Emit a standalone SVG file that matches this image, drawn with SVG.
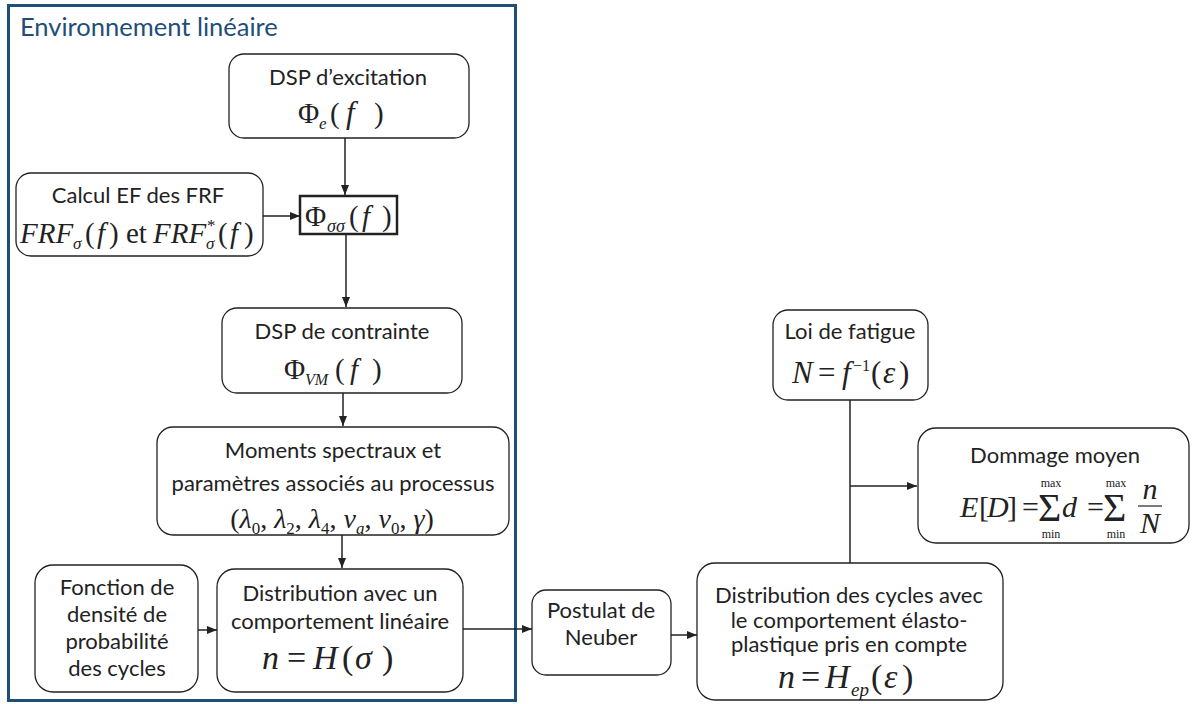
<svg xmlns="http://www.w3.org/2000/svg" width="1193" height="704" viewBox="0 0 1193 704">
<defs>
<style>
.box{fill:#fff;stroke:#222;stroke-width:1.3}
.t{font-family:Lato,"Liberation Sans",sans-serif;font-size:22px;fill:#222;text-anchor:middle}
.m{font-family:"Liberation Serif","Times New Roman",serif;font-size:28px;fill:#222}
.i{font-style:italic}
.s{font-size:17px}
.c{fill:none;stroke:#222;stroke-width:1.5}
</style>
<marker id="ah" viewBox="0 0 10 10" refX="10" refY="5" markerWidth="10" markerHeight="10" markerUnits="userSpaceOnUse" orient="auto">
<path d="M0,1 L10,5 L0,9 Z" fill="#222"/>
</marker>
</defs>
<rect width="1193" height="704" fill="#fff"/>
<g id="frame">
<rect x="8.5" y="5.5" width="507" height="695" fill="none" stroke="#1f4e79" stroke-width="3"/>
<text x="20" y="36" font-family="Lato,'Liberation Sans',sans-serif" font-size="25.5" fill="#1f4e79">Environnement linéaire</text>
</g>
<g id="connectors">
<line class="c" x1="345" y1="138" x2="345" y2="195" marker-end="url(#ah)"/>
<line class="c" x1="263" y1="216" x2="300" y2="216" marker-end="url(#ah)"/>
<line class="c" x1="346" y1="235" x2="346" y2="307" marker-end="url(#ah)"/>
<line class="c" x1="343" y1="393" x2="343" y2="426" marker-end="url(#ah)"/>
<line class="c" x1="342" y1="535" x2="342" y2="568" marker-end="url(#ah)"/>
<line class="c" x1="198" y1="630" x2="217" y2="630" marker-end="url(#ah)"/>
<line class="c" x1="463" y1="629" x2="532" y2="629" marker-end="url(#ah)"/>
<line class="c" x1="671" y1="635" x2="697" y2="635" marker-end="url(#ah)"/>
<line class="c" x1="850" y1="400" x2="850" y2="563"/>
<line class="c" x1="850" y1="486" x2="917" y2="486" marker-end="url(#ah)"/>
</g>
<g id="dsp-excitation">
<rect class="box" x="229" y="54" width="240" height="84" rx="15"/>
<text class="t" x="348" y="85">DSP d’excitation</text>
<text class="m" style="font-size:29px"><tspan x="298" y="123">Φ</tspan><tspan class="i s" x="319" y="129">e</tspan><tspan x="330" y="123">(</tspan><tspan class="i" x="346" y="123" style="font-size:31px">f</tspan><tspan x="374" y="123">)</tspan></text>
</g>
<g id="calcul-ef">
<rect class="box" x="16" y="173" width="247" height="83" rx="15"/>
<text class="t" x="138" y="203">Calcul EF des FRF</text>
<text class="m" style="font-size:29px"><tspan class="i" x="20" y="243">FRF</tspan><tspan class="i s" x="73" y="249">σ</tspan><tspan x="85" y="243">(</tspan><tspan class="i" x="97" y="243">f</tspan><tspan x="109" y="243">)</tspan><tspan x="126" y="243">et</tspan><tspan class="i" x="153" y="243">FRF</tspan><tspan class="s" x="207" y="231">*</tspan><tspan class="i s" x="206" y="249">σ</tspan><tspan x="218" y="243">(</tspan><tspan class="i" x="230" y="243">f</tspan><tspan x="244" y="243">)</tspan></text>
</g>
<g id="phi-sigma">
<rect x="300" y="196" width="97" height="38" fill="#fff" stroke="#222" stroke-width="2.5"/>
<text class="m" style="font-size:29px"><tspan x="305" y="226">Φ</tspan><tspan class="i" style="font-size:18px" x="327" y="232">σσ</tspan><tspan x="349" y="226">(</tspan><tspan class="i" x="362" y="226">f</tspan><tspan x="382" y="226">)</tspan></text>
</g>
<g id="dsp-contrainte">
<rect class="box" x="222" y="308" width="240" height="85" rx="15"/>
<text class="t" x="342" y="339">DSP de contrainte</text>
<text class="m" style="font-size:29px"><tspan x="284" y="379">Φ</tspan><tspan class="i" style="font-size:16px" x="305" y="385">VM</tspan><tspan x="335" y="379">(</tspan><tspan class="i" x="350" y="379">f</tspan><tspan x="372" y="379">)</tspan></text>
</g>
<g id="moments">
<rect class="box" x="157" y="427" width="352" height="108" rx="16"/>
<text class="t" x="333" y="458">Moments spectraux et</text>
<text class="t" x="333" y="491">paramètres associés au processus</text>
<text class="m" x="332" y="528" text-anchor="middle">(<tspan class="i">λ</tspan><tspan class="s" dy="6">0</tspan><tspan dy="-6">, </tspan><tspan class="i">λ</tspan><tspan class="s" dy="6">2</tspan><tspan dy="-6">, </tspan><tspan class="i">λ</tspan><tspan class="s" dy="6">4</tspan><tspan dy="-6">, </tspan><tspan class="i">ν</tspan><tspan class="i s" dy="6">a</tspan><tspan dy="-6">, </tspan><tspan class="i">ν</tspan><tspan class="s" dy="6">0</tspan><tspan dy="-6">, </tspan><tspan class="i">γ</tspan>)</text>
</g>
<g id="fonction-densite">
<rect class="box" x="35" y="565" width="163" height="127" rx="18"/>
<text class="t" x="117" y="595">Fonction de</text>
<text class="t" x="117" y="622">densité de</text>
<text class="t" x="117" y="649">probabilité</text>
<text class="t" x="117" y="676">des cycles</text>
</g>
<g id="distribution-lineaire">
<rect class="box" x="217" y="569" width="246" height="123" rx="18"/>
<text class="t" x="340" y="601">Distribution avec un</text>
<text class="t" x="340" y="629">comportement linéaire</text>
<text class="m" style="font-size:34px"><tspan class="i" x="262" y="669">n</tspan><tspan x="287" y="669">=</tspan><tspan class="i" x="313" y="669">H</tspan><tspan x="342" y="669">(</tspan><tspan class="i" x="355" y="669">σ</tspan><tspan x="382" y="669">)</tspan></text>
</g>
<g id="postulat-neuber">
<rect class="box" x="532" y="590" width="139" height="85" rx="14"/>
<text class="t" x="601" y="618">Postulat de</text>
<text class="t" x="601" y="645">Neuber</text>
</g>
<g id="distribution-ep">
<rect class="box" x="697" y="563" width="306" height="137" rx="18"/>
<text class="t" x="849" y="603">Distribution des cycles avec</text>
<text class="t" x="849" y="628">le comportement élasto-</text>
<text class="t" x="849" y="652">plastique pris en compte</text>
<text class="m" style="font-size:34px"><tspan class="i" x="778" y="688">n</tspan><tspan x="801" y="688">=</tspan><tspan class="i" x="825" y="688">H</tspan><tspan class="i" style="font-size:19px" x="851" y="696">ep</tspan><tspan x="871" y="688">(</tspan><tspan class="i" x="884" y="688">ε</tspan><tspan x="902" y="688">)</tspan></text>
</g>
<g id="loi-fatigue">
<rect class="box" x="773" y="310" width="155" height="90" rx="15"/>
<text class="t" x="850" y="339">Loi de fatigue</text>
<text class="m" style="font-size:31px"><tspan class="i" x="792" y="383">N</tspan><tspan x="818" y="383">=</tspan><tspan class="i" x="842" y="383">f</tspan><tspan style="font-size:16px" x="853" y="371">−1</tspan><tspan x="871" y="383">(</tspan><tspan class="i" x="883" y="383">ε</tspan><tspan x="899" y="383">)</tspan></text>
</g>
<g id="dommage-moyen">
<rect class="box" x="918" y="428" width="271" height="115" rx="18"/>
<text class="t" x="1055" y="463">Dommage moyen</text>
<text class="m" style="font-size:30px"><tspan class="i" x="960" y="517">E</tspan><tspan x="979" y="517">[</tspan><tspan class="i" x="987" y="517">D</tspan><tspan x="1007" y="517">]</tspan><tspan x="1022" y="517">=</tspan><tspan style="font-size:40px" x="1038" y="521">Σ</tspan><tspan class="i" x="1062" y="517">d</tspan><tspan x="1087" y="517">=</tspan><tspan style="font-size:40px" x="1103" y="521">Σ</tspan></text>
<text class="m" style="font-size:12px" text-anchor="middle"><tspan x="1051" y="487">max</tspan><tspan x="1051" y="538">min</tspan><tspan x="1116" y="487">max</tspan><tspan x="1116" y="538">min</tspan></text>
<text class="m i" text-anchor="middle" style="font-size:30px"><tspan x="1150" y="499">n</tspan><tspan x="1150" y="533">N</tspan></text>
<line x1="1138" y1="506" x2="1162" y2="506" stroke="#222" stroke-width="1.2"/>
</g>
</svg>
